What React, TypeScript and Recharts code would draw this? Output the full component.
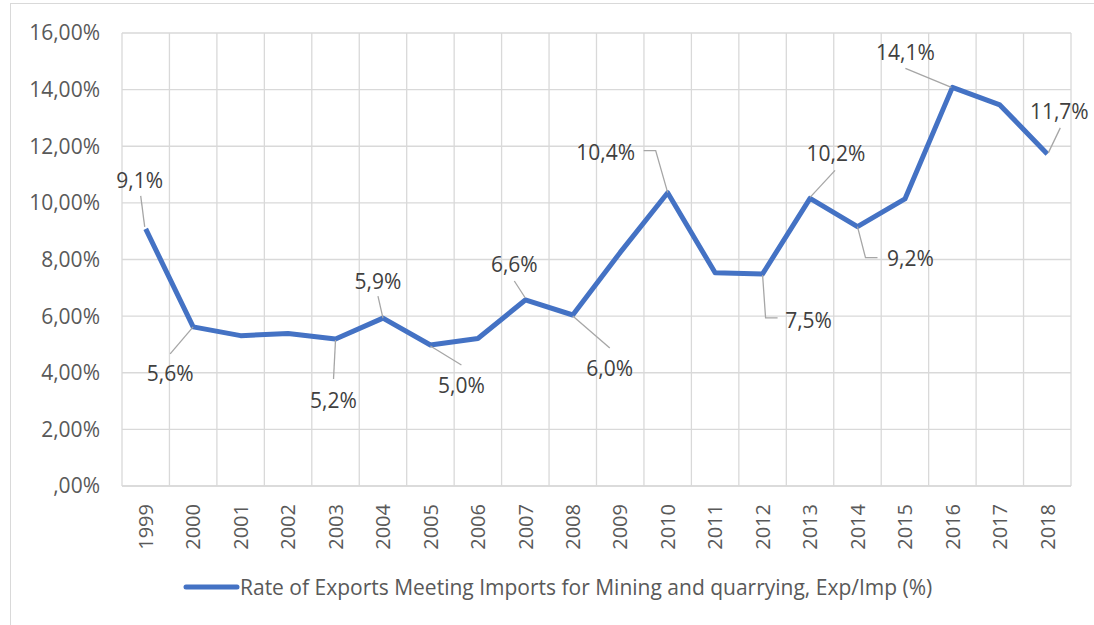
import React from "react";
import {
  LineChart,
  Line,
  XAxis,
  YAxis,
  CartesianGrid,
  Legend,
  LabelList,
} from "recharts";

const years = [
  "1999", "2000", "2001", "2002", "2003", "2004", "2005", "2006", "2007", "2008",
  "2009", "2010", "2011", "2012", "2013", "2014", "2015", "2016", "2017", "2018",
];

const rates = [
  9.08, 5.62, 5.31, 5.39, 5.19, 5.93, 4.98, 5.21, 6.57, 6.04,
  8.25, 10.36, 7.53, 7.49, 10.16, 9.16, 10.14, 14.08, 13.46, 11.73,
];

const yTicks = [0, 2, 4, 6, 8, 10, 12, 14, 16];

const seriesName =
  "Rate of Exports Meeting Imports for Mining and quarrying, Exp/Imp (%)";

const data = years.map((year, i) => ({ year, rate: rates[i] }));

// where each data label sits relative to its point, and its leader line
const labelSpots: Record<string, { text: [number, number]; leader: [number, number][] }> = {
  "1999": { text: [-6, -48], leader: [[-5, -33], [-1, -2]] },
  "2000": { text: [-23, 47], leader: [[-23, 27], [0, 0]] },
  "2003": { text: [-2, 61], leader: [[-2, 40], [0, 1]] },
  "2004": { text: [-5, -37], leader: [[-5, -22], [0, 0]] },
  "2005": { text: [31, 40], leader: [[0, 1], [31, 20]] },
  "2007": { text: [-11, -36], leader: [[-11, -19], [0, -2]] },
  "2008": { text: [37, 53], leader: [[0, 1], [37, 33]] },
  "2010": { text: [-62, -40], leader: [[-24, -42], [-12, -42], [0, 0]] },
  "2012": { text: [46, 47], leader: [[0, 1], [3, 44], [15, 44]] },
  "2013": { text: [26, -45], leader: [[25, -28], [0, -1]] },
  "2014": { text: [53, 32], leader: [[0, 0], [8, 31], [20, 31]] },
  "2016": { text: [-47, -35], leader: [[-47, -19], [-1, 0]] },
  "2018": { text: [12, -42], leader: [[13, -26], [1, -1]] },
};

const FONT = "'Open Sans', 'Segoe UI', sans-serif";
const GRID = "#d9d9d9";
const BLUE = "#4472C4";
const HALF_CAT = 23.7; // half a category slot, so points sit between gridlines

const pctAxis = (v: number) => {
  const s = v.toFixed(2).replace(".", ",");
  return s.startsWith("0") ? s.slice(1) + "%" : s + "%";
};

const pctLabel = (v: number) => v.toFixed(1).replace(".", ",") + "%";

function PointLabel(props: any) {
  const { x, y, value, index } = props;
  const spot = labelSpots[years[index]];
  if (!spot) return null;
  const pts = spot.leader.map(([dx, dy]) => `${x + dx},${y + dy}`).join(" ");
  return (
    <g>
      <polyline points={pts} fill="none" stroke="#a6a6a6" strokeWidth={1.3} />
      <text
        x={x + spot.text[0]}
        y={y + spot.text[1]}
        dy="0.36em"
        textAnchor="middle"
        fontFamily={FONT}
        fontSize={21}
        fill="#404040"
      >
        {pctLabel(value)}
      </text>
    </g>
  );
}

function YearTick(props: any) {
  const { x, y, payload } = props;
  return (
    <g transform={`translate(${x},${y})`}>
      <text
        transform="rotate(-90)"
        textAnchor="end"
        dy="0.36em"
        fontFamily={FONT}
        fontSize={20}
        fill="#595959"
      >
        {payload.value}
      </text>
    </g>
  );
}

function LegendBox() {
  return (
    <div
      style={{
        height: 49,
        display: "flex",
        alignItems: "flex-start",
        paddingLeft: 183,
        boxSizing: "border-box",
      }}
    >
      <div style={{ display: "flex", alignItems: "center", marginTop: 19, height: 24 }}>
        <svg width={57} height={10}>
          <line x1={3} y1={5} x2={54} y2={5} stroke={BLUE} strokeWidth={5} strokeLinecap="round" />
        </svg>
        <span style={{ fontFamily: FONT, fontSize: 21, color: "#595959", whiteSpace: "nowrap" }}>
          {seriesName}
        </span>
      </div>
    </div>
  );
}

export default function App() {
  return (
    <div
      style={{
        position: "absolute",
        left: 0,
        top: 0,
        width: 1094,
        height: 625,
        background: "#fff",
        overflow: "hidden",
      }}
    >
      <div
        style={{
          position: "absolute",
          left: 10,
          top: 3,
          width: 1200,
          height: 700,
          border: `1px solid ${GRID}`,
        }}
      />
      <LineChart
        width={1094}
        height={625}
        data={data}
        margin={{ top: 33, right: 23, left: 12, bottom: 20 }}
      >
        <CartesianGrid
          stroke={GRID}
          strokeWidth={1.3}
          verticalCoordinatesGenerator={({ offset }: any) =>
            Array.from(
              { length: years.length + 1 },
              (_, i) => offset.left + (i * offset.width) / years.length
            )
          }
        />
        <XAxis
          dataKey="year"
          interval={0}
          height={70}
          padding={{ left: HALF_CAT, right: HALF_CAT }}
          tickLine={false}
          axisLine={{ stroke: GRID, strokeWidth: 1.3 }}
          tickSize={0}
          tickMargin={18}
          tick={<YearTick />}
        />
        <YAxis
          width={110}
          domain={[0, 16]}
          ticks={yTicks}
          tickFormatter={pctAxis}
          axisLine={false}
          tickLine={false}
          tickSize={0}
          tickMargin={22}
          tick={{ fontFamily: FONT, fontSize: 21, fill: "#595959" }}
        />
        <Legend
          verticalAlign="bottom"
          content={<LegendBox />}
          wrapperStyle={{ left: 0, width: 1094 }}
        />
        <Line
          type="linear"
          dataKey="rate"
          name={seriesName}
          stroke={BLUE}
          strokeWidth={5}
          strokeLinejoin="round"
          dot={false}
          activeDot={false}
          isAnimationActive={false}
        >
          <LabelList dataKey="rate" content={<PointLabel />} />
        </Line>
      </LineChart>
    </div>
  );
}
